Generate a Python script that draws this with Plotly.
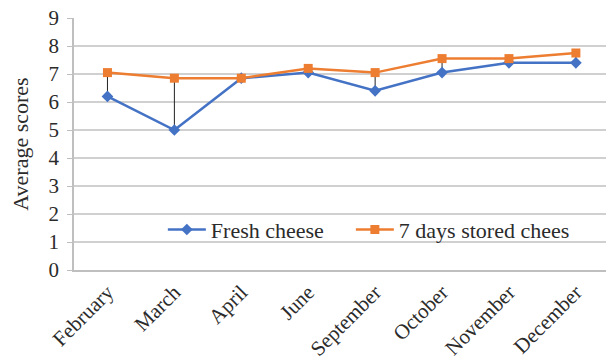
import plotly.graph_objects as go

months = ["February", "March", "April", "June", "September", "October", "November", "December"]
fresh = [6.2, 5.0, 6.85, 7.05, 6.4, 7.05, 7.4, 7.4]
stored = [7.05, 6.85, 6.85, 7.2, 7.05, 7.55, 7.55, 7.75]
series_names = ["Fresh cheese", "7 days stored chees"]
y_ticks = list(range(0, 10))

FONT = "Liberation Serif"
TXT = "#2b2b2b"
idx = list(range(len(months)))
PAD = "\u00a0" * 4

# high-low lines
hx, hy = [], []
for i in idx:
    hx += [i, i, None]
    hy += [fresh[i], stored[i], None]

fig = go.Figure()
fig.add_trace(go.Scatter(x=hx, y=hy, mode="lines", line=dict(color="#222222", width=1),
                         showlegend=False, hoverinfo="skip"))
fig.add_trace(go.Scatter(x=idx, y=fresh, mode="lines+markers", name=series_names[0] + PAD,
                         line=dict(color="#4472C4", width=2.5),
                         marker=dict(symbol="diamond", size=9, color="#4472C4")))
fig.add_trace(go.Scatter(x=idx, y=stored, mode="lines+markers", name=series_names[1],
                         line=dict(color="#ED7D31", width=2.5),
                         marker=dict(symbol="square", size=9, color="#ED7D31")))

fig.update_layout(
    width=606, height=361,
    margin=dict(l=74, r=0, t=18, b=91),
    paper_bgcolor="white", plot_bgcolor="white",
    font=dict(family=FONT, color=TXT, size=20),
    legend=dict(orientation="h", x=0.167, y=0.16, xanchor="left", yanchor="middle",
                bgcolor="rgba(0,0,0,0)", font=dict(size=22, family=FONT, color=TXT),
                itemwidth=38),
    xaxis=dict(tickmode="array", tickvals=idx, ticktext=months, range=[-0.5, 7.45],
               tickangle=-45, showgrid=False, showline=True, linecolor="#BFBFBF",
               linewidth=1.5, ticks="", tickfont=dict(size=21, family=FONT, color=TXT),
               zeroline=False),
    yaxis=dict(range=[0, 9], tickvals=y_ticks, showgrid=True, gridcolor="#D0D0D0",
               gridwidth=1.5, showline=True, linecolor="#BFBFBF", linewidth=1.5,
               ticks="outside", ticklen=5, tickcolor="#BFBFBF", ticklabelstandoff=4,
               tickfont=dict(size=21, family=FONT, color=TXT), zeroline=False,
               title=dict(text="Average scores", font=dict(size=22, family=FONT, color=TXT),
                          standoff=14)),
)

fig.write_html("out.html")
